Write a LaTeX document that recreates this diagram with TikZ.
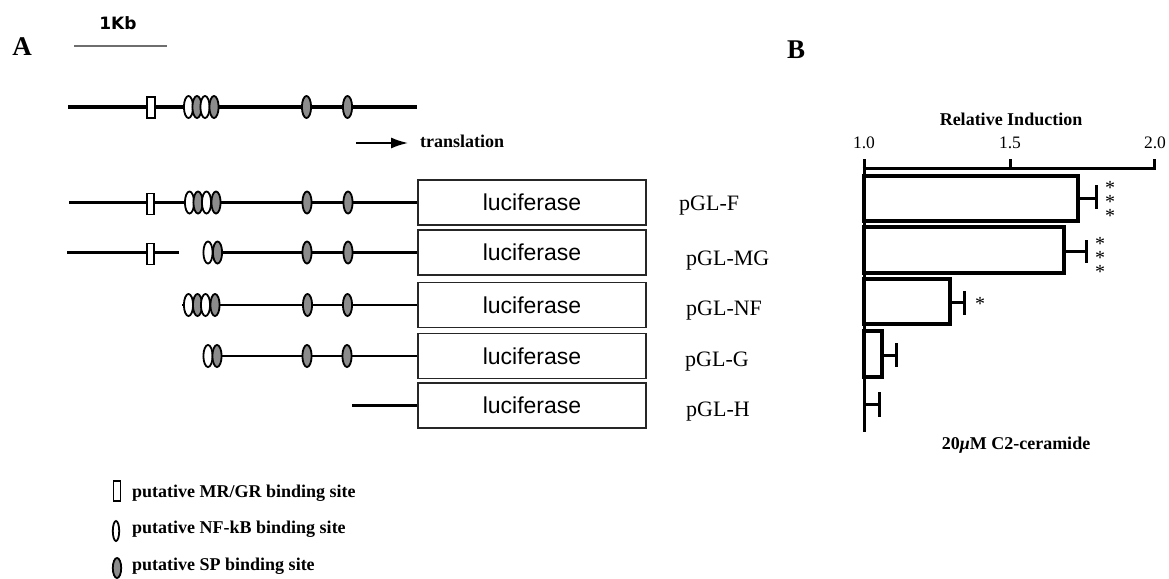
\documentclass[tikz,border=0pt]{standalone}
\usepackage{fontspec}
\setmainfont{Liberation Serif}
\newfontfamily\arialf{Liberation Sans}
\newfontfamily\dejavuf{DejaVu Sans}
\usetikzlibrary{arrows.meta}
\definecolor{spgray}{RGB}{140,140,140}
\definecolor{scalegray}{RGB}{110,110,110}
\newcommand\wsite[2]{\draw[line width=1.8pt,fill=white] (#1,#2) ellipse [x radius=4.6,y radius=11];}
\newcommand\gsite[2]{\draw[line width=1.8pt,fill=spgray] (#1,#2) ellipse [x radius=4.6,y radius=11];}
\newcommand\mrsite[2]{\draw[line width=1.8pt,fill=white] (#1-3.8,#2-10.5) rectangle (#1+3.8,#2+10.5);}
\begin{document}
\begin{tikzpicture}[x=1pt,y=-1pt,
  lucbox/.style={draw=black!85,line width=1.3pt,minimum width=228pt,minimum height=45pt,inner sep=0pt,font=\arialf\fontsize{23}{23}\selectfont},
  plab/.style={anchor=base west,inner sep=0pt,font=\fontsize{22}{22}\selectfont},
  blab/.style={inner sep=0pt,font=\bfseries\fontsize{18}{18}\selectfont},
  tlab/.style={anchor=base,inner sep=0pt,font=\fontsize{17.5}{17.5}\selectfont},
  starlab/.style={anchor=north,inner sep=0pt,align=center,font=\fontsize{20}{11.5}\selectfont},
  bar/.style={draw=black,line width=3.3pt,fill=white},
  err/.style={line width=3pt},
  dna/.style={line width=2.6pt},
]
\useasboundingbox (0,0) rectangle (1169,578);

% panel labels
\node[inner sep=0pt,font=\bfseries\fontsize{27}{27}\selectfont] (A) at (22,47) {A};
\node[inner sep=0pt,font=\bfseries\fontsize{27}{27}\selectfont] (B) at (796,50) {B};

% scale bar
\coordinate (s0) at (74,46);
\coordinate (s1) at (167,46);
\draw[scalegray,line width=1.3pt] (s0) -- (s1);
\node[inner sep=0pt,font=\dejavuf\bfseries\fontsize{17}{17}\selectfont] (kb) at (118,23) {1Kb};

% full gene
\coordinate (g0) at (68,107);
\coordinate (g1) at (417,107);
\draw[line width=4.5pt] (g0) -- (g1);
\mrsite{151}{107.5}
\wsite{188.5}{107}\gsite{197}{107}\wsite{205}{107}\gsite{214}{107}
\gsite{306.5}{107}\gsite{347.5}{107}

% translation
\coordinate (t0) at (356,143);
\coordinate (t1) at (408,143);
\draw[line width=1.6pt,-{Latex[length=17pt,width=11pt]}] (t0) -- (t1);
\node[blab,anchor=base west] (tr) at (420,147) {translation};

% luciferase boxes
\node[lucbox] (b1) at (532,202.5) {luciferase};
\node[lucbox] (b2) at (532,252.5) {luciferase};
\node[lucbox] (b3) at (532,305) {luciferase};
\node[lucbox] (b4) at (532,356) {luciferase};
\node[lucbox] (b5) at (532,405.5) {luciferase};

% construct labels
\node[plab] (l1) at (679,210) {pGL-F};
\node[plab] (l2) at (686,265) {pGL-MG};
\node[plab] (l3) at (686,315) {pGL-NF};
\node[plab] (l4) at (685,366) {pGL-G};
\node[plab] (l5) at (686,416) {pGL-H};

% row 1
\coordinate (r1) at (69,202.5);
\draw[dna] (r1) -- (b1.west);
\mrsite{150.5}{204}
\wsite{189.5}{202.5}\gsite{198}{202.5}\wsite{206.5}{202.5}\gsite{216}{202.5}
\gsite{307}{202.5}\gsite{348}{202.5}

% row 2
\coordinate (r2a) at (67,252.5);
\coordinate (r2b) at (179,252.5);
\coordinate (r2c) at (222,252.5);
\draw[dna] (r2a) -- (r2b);
\draw[dna] (r2c) -- (b2.west);
\mrsite{150.5}{254}
\wsite{208}{252.5}\gsite{217.5}{252.5}
\gsite{307}{252.5}\gsite{348}{252.5}

% row 3
\coordinate (r3) at (182,305);
\draw[dna] (r3) -- (b3.west);
\wsite{188.5}{305}\gsite{197.5}{305}\wsite{205.5}{305}\gsite{215}{305}
\gsite{307.5}{305}\gsite{347.5}{305}

% row 4
\coordinate (r4) at (217,356);
\draw[dna] (r4) -- (b4.west);
\wsite{208}{356}\gsite{217}{356}
\gsite{307}{356}\gsite{347}{356}

% row 5
\coordinate (r5) at (352,405.5);
\draw[dna] (r5) -- (b5.west);

% legend
\draw[line width=1.8pt,fill=white] (113.5,481) rectangle (120.5,501);
\node[blab,anchor=base west] (lg1) at (132,497) {putative MR/GR binding site};
\draw[line width=1.8pt,fill=white] (116,531) ellipse [x radius=3.2,y radius=10];
\node[blab,anchor=base west] (lg2) at (132,533) {putative NF-kB binding site};
\draw[line width=1.8pt,fill=spgray] (117,568) ellipse [x radius=4.2,y radius=10];
\node[blab,anchor=base west] (lg3) at (132,570) {putative SP binding site};

% panel B axes
\node[blab,anchor=base] (ri) at (1011,125) {Relative Induction};
\node[tlab] (x10) at (864,148) {1.0};
\node[tlab] (x15) at (1010,148) {1.5};
\node[tlab] (x20) at (1155,148) {2.0};
\draw[line width=3pt] (864,159) -- (864,432);
\draw[line width=3pt] (862.5,168) -- (1154,168);
\draw[line width=3pt] (1010,159) -- (1010,168);
\draw[line width=3pt] (1154,159) -- (1154,169.5);

% bars
\draw[bar] (864,176) rectangle (1078,221);
\draw[err] (1078,198.5) -- (1096,198.5) (1096,185) -- (1096,209);
\node[starlab] (st1) at (1110,181.5) {*\\*\\*};

\draw[bar] (864,227) rectangle (1064,273);
\draw[err] (1064,251.5) -- (1086,251.5) (1086,240) -- (1086,263);
\node[starlab] (st2) at (1100,237.5) {*\\*\\*};

\draw[bar] (864,279) rectangle (950,324);
\draw[err] (950,302.5) -- (964,302.5) (964,291) -- (964,315);
\node[starlab] (st3) at (980,297.5) {*};

\draw[bar] (864,331) rectangle (882,377);
\draw[err] (882,355) -- (896,355) (896,343) -- (896,367);

\draw[err] (864,404) -- (879,404) (879,392) -- (879,417);

\node[blab,anchor=base] (cer) at (1016,449) {20\textit{μ}M C2-ceramide};
\end{tikzpicture}
\end{document}
